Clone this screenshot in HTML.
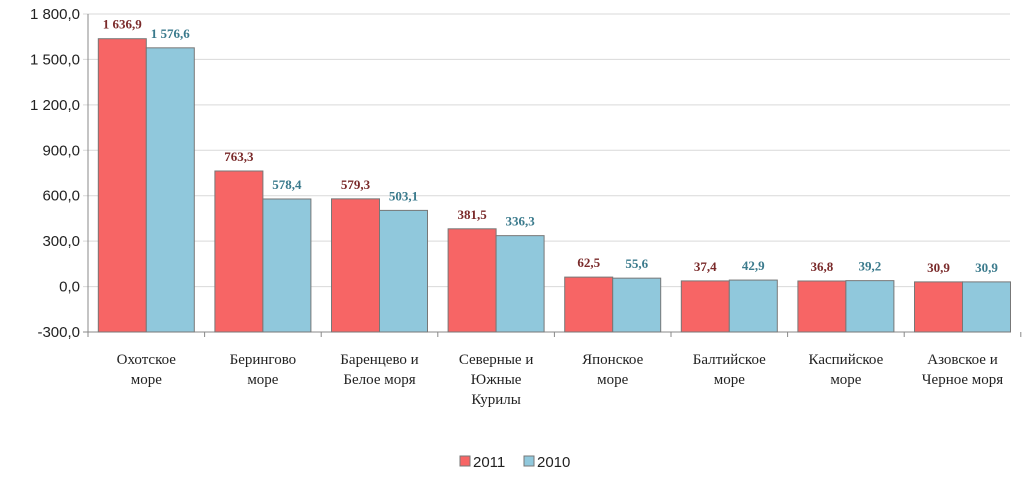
<!DOCTYPE html>
<html><head><meta charset="utf-8"><style>
body{margin:0;background:#fff;}
svg{display:block;font-family:"Liberation Serif",serif;}
</style></head><body>
<svg id="chart" width="1024" height="494"></svg>
<script>
const categories=[["Охотское","море"],["Берингово","море"],["Баренцево и","Белое моря"],["Северные и","Южные","Курилы"],["Японское","море"],["Балтийское","море"],["Каспийское","море"],["Азовское и","Черное моря"]];
const values2011=[1636.9,763.3,579.3,381.5,62.5,37.4,36.8,30.9];
const values2010=[1576.6,578.4,503.1,336.3,55.6,42.9,39.2,30.9];
const yTicks=[-300,0,300,600,900,1200,1500,1800];
const NS="http://www.w3.org/2000/svg";
const svg=document.getElementById("chart");
const x0=88,catW=116.6,yMin=-300,yMax=1800,yTop=14,yBot=332;
const y=v=>yBot-(v-yMin)/(yMax-yMin)*(yBot-yTop);
const fmt=v=>{let s=v.toFixed(1).replace(".",",");let [i,d]=s.split(",");let neg=i.startsWith("-");if(neg)i=i.slice(1);i=i.replace(/\B(?=(\d{3})+(?!\d))/g," ");return (neg?"-":"")+i+","+d;};
function mk(t,a,p){const e=document.createElementNS(NS,t);for(const k in a)e.setAttribute(k,a[k]);(p||svg).appendChild(e);return e;}
yTicks.forEach(v=>{
  const g=mk("line",{x1:x0-5,x2:1010,y1:y(v),y2:y(v),stroke:v===yMin?"#888":"#d9d9d9","stroke-width":1});
  
  
  const t=mk("text",{x:x0-8,y:y(v)+5,"text-anchor":"end","font-size":15,fill:"#222","font-family":"Liberation Sans, sans-serif"});
  t.textContent=fmt(v);
  
  
});
const ax=mk("line",{x1:x0,x2:x0,y1:yTop,y2:yBot,stroke:"#888"});


for(let i=0;i<=categories.length;i++){
  const tk=mk("line",{x1:x0+i*catW,x2:x0+i*catW,y1:yBot,y2:yBot+5,stroke:"#888"});
  
  
}
categories.forEach((c,i)=>{
  const cx=x0+i*catW+catW/2;
  [[values2011[i],"#f76565","#7a2a2a",-48],[values2010[i],"#90c8dc","#3a7a8c",0]].forEach(([v,fill,lc,off],s)=>{
    const bx=cx+off;
    const r=mk("rect",{x:bx,y:y(v),width:48,height:y(0)-y(v)+(yBot-y(0)),fill:fill,stroke:"#777","stroke-width":1});
    r.setAttribute('height',yBot-y(v));
    
    
    const t=mk("text",{x:bx+24,y:y(v)-10,"text-anchor":"middle","font-size":13,"font-weight":"bold",fill:lc});
    t.textContent=fmt(v);
    
    
  });
  c.forEach((line,j)=>{
    const t=mk("text",{x:cx,y:364+j*20,"text-anchor":"middle","font-size":15,fill:"#222"});
    t.textContent=line;
    
    
  });
});
[["2011","#f76565",460],["2010","#90c8dc",524]].forEach(([n,f,lx])=>{
  const r=mk("rect",{x:lx,y:456,width:10,height:10,fill:f,stroke:"#777"});
  
  
  const t=mk("text",{x:lx+13,y:467,"font-size":15,fill:"#222","font-family":"Liberation Sans, sans-serif"});
  t.textContent=n;
  
  
});
</script>
</body></html>
